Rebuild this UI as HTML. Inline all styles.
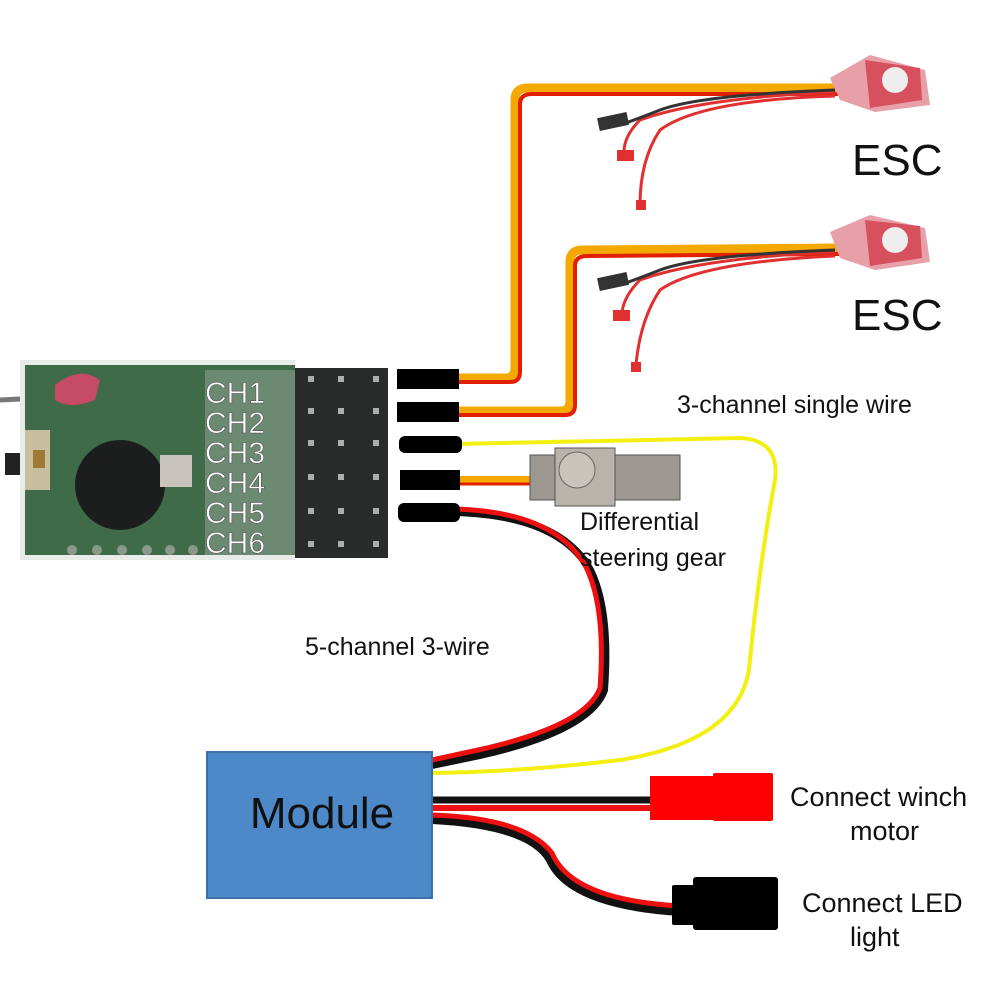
<!DOCTYPE html>
<html><head><meta charset="utf-8"><style>
html,body{margin:0;padding:0;background:#fff;}
svg{display:block;}
text{font-family:"Liberation Sans",sans-serif;}
</style></head><body>
<svg width="1000" height="1000" viewBox="0 0 1000 1000" xmlns="http://www.w3.org/2000/svg">
<rect width="1000" height="1000" fill="#fff"/>
<path d="M0 400 L40 398" stroke="#777" stroke-width="5" fill="none"/>
<rect x="5" y="453" width="18" height="22" fill="#222"/>
<rect x="20" y="360" width="275" height="200" fill="#e8ece8"/>
<rect x="25" y="365" width="270" height="190" fill="#3f6b49"/>
<rect x="205" y="370" width="90" height="185" fill="#6c8a72"/>
<path d="M55 385 Q80 365 100 380 L95 400 Q70 410 55 400Z" fill="#c44a66"/>
<rect x="25" y="430" width="25" height="60" fill="#c8bfa0"/>
<rect x="33" y="450" width="12" height="18" fill="#a07a30"/>
<circle cx="120" cy="485" r="45" fill="#1c1e1e"/>
<rect x="160" y="455" width="32" height="32" fill="#c9c4bd"/>
<g fill="#8a9a8a"><circle cx="72" cy="550" r="5"/><circle cx="97" cy="550" r="5"/><circle cx="122" cy="550" r="5"/><circle cx="147" cy="550" r="5"/><circle cx="170" cy="550" r="5"/><circle cx="193" cy="550" r="5"/></g>
<rect x="295" y="368" width="93" height="190" fill="#2a2c2c"/>
<g fill="#aab0aa">
<rect x="308" y="376" width="6" height="6"/><rect x="338" y="376" width="6" height="6"/><rect x="373" y="376" width="6" height="6"/>
<rect x="308" y="408" width="6" height="6"/><rect x="338" y="408" width="6" height="6"/><rect x="373" y="408" width="6" height="6"/>
<rect x="308" y="440" width="6" height="6"/><rect x="338" y="440" width="6" height="6"/><rect x="373" y="440" width="6" height="6"/>
<rect x="308" y="474" width="6" height="6"/><rect x="338" y="474" width="6" height="6"/><rect x="373" y="474" width="6" height="6"/>
<rect x="308" y="508" width="6" height="6"/><rect x="338" y="508" width="6" height="6"/><rect x="373" y="508" width="6" height="6"/>
<rect x="308" y="541" width="6" height="6"/><rect x="338" y="541" width="6" height="6"/><rect x="373" y="541" width="6" height="6"/>
</g>
<g fill="#fff" font-size="30" stroke="#444" stroke-width="0.5">
<text x="205" y="403">CH1</text><text x="205" y="433">CH2</text><text x="205" y="463">CH3</text><text x="205" y="493">CH4</text><text x="205" y="523">CH5</text><text x="205" y="553">CH6</text>
</g>
<g fill="none" stroke-linejoin="round">
<path d="M455 378 L505 378 Q515 378 515 368 L515 100 Q515 88 527 88 L840 88" stroke="#f5a800" stroke-width="9"/>
<path d="M455 382 L510 382 Q520 382 520 372 L520 104 Q520 94 532 94 L840 94" stroke="#e02000" stroke-width="4"/>
<path d="M455 411 L560 411 Q570 411 570 401 L570 262 Q570 250 582 250 L840 248" stroke="#f5a800" stroke-width="9"/>
<path d="M455 415 L565 415 Q575 415 575 405 L575 266 Q575 256 587 256 L840 254" stroke="#e02000" stroke-width="4"/>
<path d="M455 444 L740 438 Q780 440 775 480 Q760 560 750 660 Q745 740 620 760 Q520 772 430 773" stroke="#f3ef10" stroke-width="4"/>
<path d="M455 480 L540 480" stroke="#f5a800" stroke-width="8"/>
<path d="M455 484 L540 484" stroke="#e02000" stroke-width="3"/>
<path d="M455 512 Q560 515 590 570 Q610 610 604 690 Q590 730 480 755 L432 765" stroke="#111" stroke-width="8"/>
<path d="M455 509 Q556 512 586 567 Q606 608 600 688 Q586 726 478 750 L432 760" stroke="#ee1010" stroke-width="5"/>
<path d="M432 800 L660 800" stroke="#111" stroke-width="7"/>
<path d="M432 808 L660 808" stroke="#ee1010" stroke-width="6"/>
<path d="M432 820 Q530 825 550 860 Q570 905 680 912" stroke="#111" stroke-width="8"/>
<path d="M432 815 Q525 818 552 853 Q572 900 680 906" stroke="#ee1010" stroke-width="5"/>
</g>
<g fill="#000">
<rect x="397" y="369" width="62" height="20"/>
<rect x="397" y="402" width="62" height="20"/>
<rect x="399" y="436" width="63" height="17" rx="6"/>
<rect x="400" y="470" width="60" height="20"/>
<rect x="398" y="503" width="62" height="19" rx="6"/>
</g>
<rect x="530" y="455" width="150" height="45" fill="#9c9790" stroke="#555"/>
<rect x="555" y="448" width="60" height="58" fill="#b8b3ab" stroke="#555"/>
<circle cx="577" cy="470" r="18" fill="#c8c3bb" stroke="#666"/>
<g>
<path d="M830 78 L870 55 L925 70 L930 105 L875 112 L840 100Z" fill="#e8a0a8"/>
<path d="M865 60 L920 68 L922 100 L870 108Z" fill="#d6505e"/>
<circle cx="895" cy="80" r="13" fill="#eee"/>
<path d="M830 232 L870 215 L925 228 L930 262 L875 270 L840 258Z" fill="#e8a0a8"/>
<path d="M865 220 L920 226 L922 258 L870 266Z" fill="#d6505e"/>
<circle cx="895" cy="240" r="13" fill="#eee"/>
</g>
<g fill="none" stroke-width="3">
<path d="M835 96 Q700 100 660 130 Q640 160 640 205" stroke="#e03030"/>
<path d="M835 92 Q700 98 640 120 Q620 140 625 160" stroke="#e03030"/>
<path d="M835 90 Q700 95 660 110 Q640 118 620 125" stroke="#333"/>
<path d="M835 256 Q700 262 660 290 Q640 320 636 365" stroke="#e03030"/>
<path d="M835 252 Q700 258 640 280 Q620 300 622 320" stroke="#e03030"/>
<path d="M835 250 Q700 255 660 270 Q640 278 620 285" stroke="#333"/>
</g>
<g>
<rect x="598" y="115" width="30" height="13" fill="#333" transform="rotate(-12 613 121)"/>
<rect x="617" y="150" width="17" height="11" fill="#e03030"/>
<rect x="636" y="200" width="10" height="10" fill="#e03030"/>
<rect x="598" y="275" width="30" height="13" fill="#333" transform="rotate(-12 613 281)"/>
<rect x="613" y="310" width="17" height="11" fill="#e03030"/>
<rect x="631" y="362" width="10" height="10" fill="#e03030"/>
</g>
<rect x="650" y="776" width="70" height="44" fill="#ff0000"/>
<rect x="713" y="773" width="60" height="48" rx="2" fill="#ff0000"/>
<rect x="672" y="885" width="25" height="40" rx="2" fill="#000"/>
<rect x="693" y="877" width="85" height="53" rx="3" fill="#000"/>
<rect x="207" y="752" width="225" height="146" fill="#4d88c8" stroke="#3a6fa8" stroke-width="2"/>
<text x="322" y="828" font-size="44" text-anchor="middle" fill="#111">Module</text>
<g fill="#111">
<text x="852" y="175" font-size="44">ESC</text>
<text x="852" y="330" font-size="44">ESC</text>
<text x="677" y="413" font-size="25">3-channel single wire</text>
<text x="580" y="530" font-size="25">Differential</text>
<text x="580" y="566" font-size="25">steering gear</text>
<text x="305" y="655" font-size="25">5-channel 3-wire</text>
<text x="790" y="806" font-size="27">Connect winch</text>
<text x="850" y="840" font-size="27">motor</text>
<text x="802" y="912" font-size="27">Connect LED</text>
<text x="850" y="946" font-size="27">light</text>
</g>
</svg>
</body></html>
